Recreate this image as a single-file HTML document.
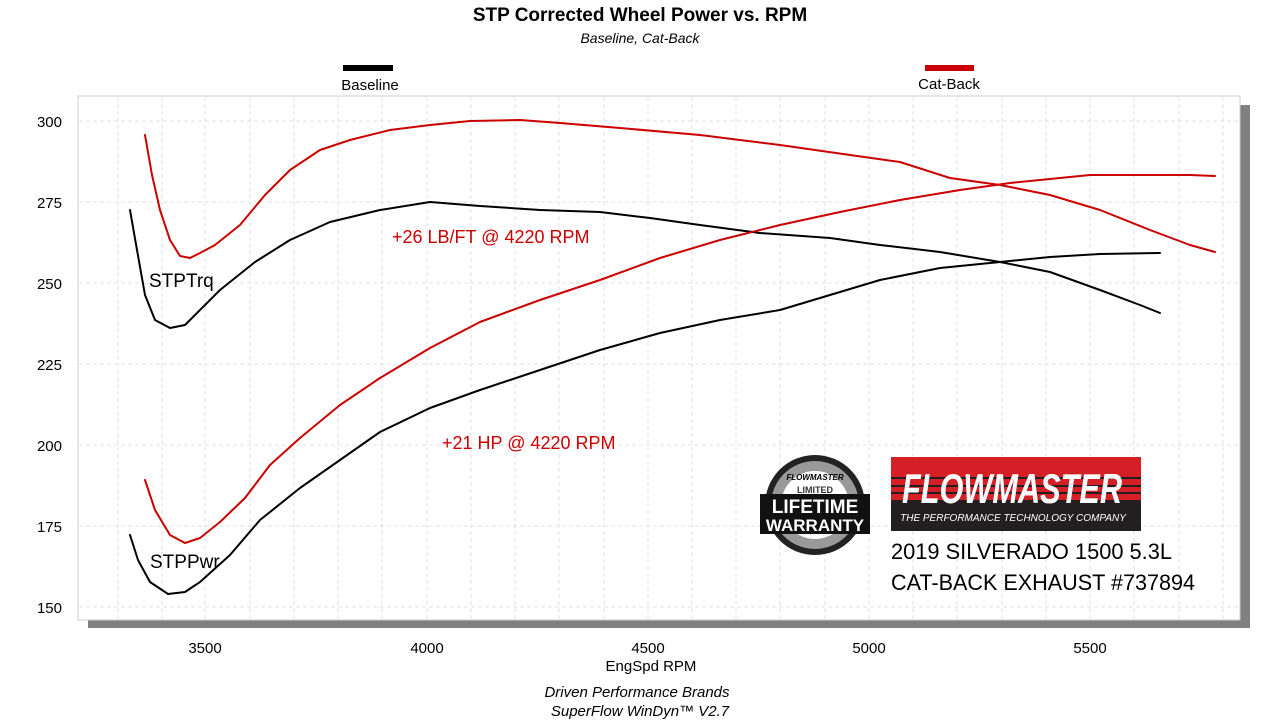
<!DOCTYPE html>
<html><head><meta charset="utf-8"><style>
body{margin:0;background:#fff;width:1280px;height:720px;overflow:hidden;font-family:"Liberation Sans",Arial,sans-serif}
</style></head><body>
<svg width="1280" height="720" viewBox="0 0 1280 720" xmlns="http://www.w3.org/2000/svg" font-family="Liberation Sans, Arial, sans-serif">
<rect width="1280" height="720" fill="#fff"/>
<text x="640" y="21" font-size="19" font-weight="bold" text-anchor="middle">STP Corrected Wheel Power vs. RPM</text>
<text x="640" y="43" font-size="14" font-style="italic" text-anchor="middle">Baseline, Cat-Back</text>
<rect x="343" y="65" width="50" height="6" fill="#000"/>
<text x="370" y="90" font-size="15" text-anchor="middle">Baseline</text>
<rect x="925" y="65" width="49" height="6" fill="#c00"/>
<text x="949" y="89" font-size="15" text-anchor="middle">Cat-Back</text>
<rect x="1240" y="105" width="10" height="523" fill="#808080"/>
<rect x="88" y="620" width="1162" height="8" fill="#808080"/>
<rect x="78" y="96" width="1162" height="524" fill="#fff" stroke="#ccc" stroke-width="1"/>
<g stroke="#e2e2e2" stroke-width="1" stroke-dasharray="4,3">
<line x1="118" y1="97" x2="118" y2="619"/><line x1="162" y1="97" x2="162" y2="619"/><line x1="205" y1="97" x2="205" y2="619"/><line x1="250" y1="97" x2="250" y2="619"/><line x1="294" y1="97" x2="294" y2="619"/><line x1="338" y1="97" x2="338" y2="619"/><line x1="382" y1="97" x2="382" y2="619"/><line x1="427" y1="97" x2="427" y2="619"/><line x1="471" y1="97" x2="471" y2="619"/><line x1="515" y1="97" x2="515" y2="619"/><line x1="559" y1="97" x2="559" y2="619"/><line x1="604" y1="97" x2="604" y2="619"/><line x1="648" y1="97" x2="648" y2="619"/><line x1="692" y1="97" x2="692" y2="619"/><line x1="736" y1="97" x2="736" y2="619"/><line x1="780" y1="97" x2="780" y2="619"/><line x1="825" y1="97" x2="825" y2="619"/><line x1="869" y1="97" x2="869" y2="619"/><line x1="913" y1="97" x2="913" y2="619"/><line x1="957" y1="97" x2="957" y2="619"/><line x1="1002" y1="97" x2="1002" y2="619"/><line x1="1046" y1="97" x2="1046" y2="619"/><line x1="1090" y1="97" x2="1090" y2="619"/><line x1="1134" y1="97" x2="1134" y2="619"/><line x1="1179" y1="97" x2="1179" y2="619"/><line x1="1223" y1="97" x2="1223" y2="619"/>
<line x1="79" y1="121" x2="1239" y2="121"/><line x1="79" y1="202" x2="1239" y2="202"/><line x1="79" y1="283" x2="1239" y2="283"/><line x1="79" y1="364" x2="1239" y2="364"/><line x1="79" y1="445" x2="1239" y2="445"/><line x1="79" y1="526" x2="1239" y2="526"/><line x1="79" y1="607" x2="1239" y2="607"/>
</g>
<g font-size="15" text-anchor="end" fill="#000">
<text x="62" y="127">300</text><text x="62" y="208">275</text><text x="62" y="289">250</text><text x="62" y="370">225</text><text x="62" y="451">200</text><text x="62" y="532">175</text><text x="62" y="613">150</text>
</g>
<g font-size="15" text-anchor="middle">
<text x="205" y="653">3500</text><text x="427" y="653">4000</text><text x="648" y="653">4500</text><text x="869" y="653">5000</text><text x="1090" y="653">5500</text>
</g>
<text x="651" y="671" font-size="15" text-anchor="middle">EngSpd  RPM</text>
<text x="637" y="697" font-size="15" font-style="italic" text-anchor="middle">Driven Performance Brands</text>
<text x="640" y="716" font-size="15" font-style="italic" text-anchor="middle">SuperFlow WinDyn™  V2.7</text>
<g fill="none" stroke-width="2" stroke-linejoin="round" stroke-linecap="round">
<polyline stroke="#c00" points="145,135 152,175 160,210 170,240 180,256 190,258 200,253 215,245 240,225 265,195 290,170 320,150 350,140 390,130 430,125 470,121 520,120 560,123 620,128 700,135 780,145 850,155 900,162 950,178 1000,185 1050,195 1100,210 1150,230 1190,245 1215,252"/>
<polyline stroke="#000" points="130,210 137,250 145,295 155,320 170,328 185,325 200,310 220,290 255,262 290,240 330,222 380,210 430,202 480,206 540,210 600,212 650,218 700,225 760,233 830,238 880,245 940,252 1000,262 1050,272 1100,290 1140,305 1160,313"/>
<polyline stroke="#c00" points="145,480 155,510 170,535 185,543 200,538 220,522 245,498 270,465 300,438 340,405 380,378 430,348 480,322 540,300 600,280 660,258 720,240 780,225 840,212 900,200 960,190 1010,183 1060,178 1090,175 1130,175 1190,175 1215,176"/>
<polyline stroke="#000" points="130,535 138,560 150,582 168,594 185,592 200,582 230,555 260,520 300,488 340,460 380,432 430,408 480,390 540,370 600,350 660,333 720,320 780,310 830,295 880,280 940,268 1000,262 1050,257 1100,254 1160,253"/>
</g>
<text x="149" y="287" font-size="19">STPTrq</text>
<text x="150" y="568" font-size="19">STPPwr</text>
<text x="392" y="243" font-size="18" fill="#c00">+26 LB/FT @ 4220 RPM</text>
<text x="442" y="449" font-size="18" fill="#c00">+21 HP @ 4220 RPM</text>
<circle cx="815" cy="505" r="50" fill="#222"/>
<circle cx="815" cy="505" r="44" fill="#999"/>
<circle cx="815" cy="505" r="34" fill="#fff"/>
<rect x="760" y="494" width="110" height="40" fill="#111"/>
<text x="815" y="513" font-size="19" font-weight="bold" fill="#fff" text-anchor="middle">LIFETIME</text>
<text x="815" y="531" font-size="17" font-weight="bold" fill="#fff" text-anchor="middle">WARRANTY</text>
<text x="815" y="493" font-size="9" font-weight="bold" fill="#333" text-anchor="middle">LIMITED</text>
<text x="815" y="480" font-size="8" font-style="italic" font-weight="bold" text-anchor="middle">FLOWMASTER</text>
<rect x="891" y="457" width="250" height="74" fill="#d51f26"/>
<rect x="891" y="500" width="250" height="31" fill="#231f20"/>
<g stroke="#231f20" stroke-width="2"><line x1="891" y1="478" x2="1141" y2="478"/><line x1="891" y1="486" x2="1141" y2="486"/><line x1="891" y1="493" x2="1141" y2="493"/></g>
<text x="1012" y="503" font-size="42" font-weight="bold" font-style="italic" fill="#fff" text-anchor="middle" textLength="220" lengthAdjust="spacingAndGlyphs">FLOWMASTER</text>
<text x="1013" y="521" font-size="10" font-style="italic" fill="#fff" text-anchor="middle">THE PERFORMANCE TECHNOLOGY COMPANY</text>
<text x="891" y="559" font-size="22" textLength="281" lengthAdjust="spacingAndGlyphs">2019 SILVERADO 1500 5.3L</text>
<text x="891" y="590" font-size="22" textLength="304" lengthAdjust="spacingAndGlyphs">CAT-BACK EXHAUST #737894</text>
</svg>
</body></html>
